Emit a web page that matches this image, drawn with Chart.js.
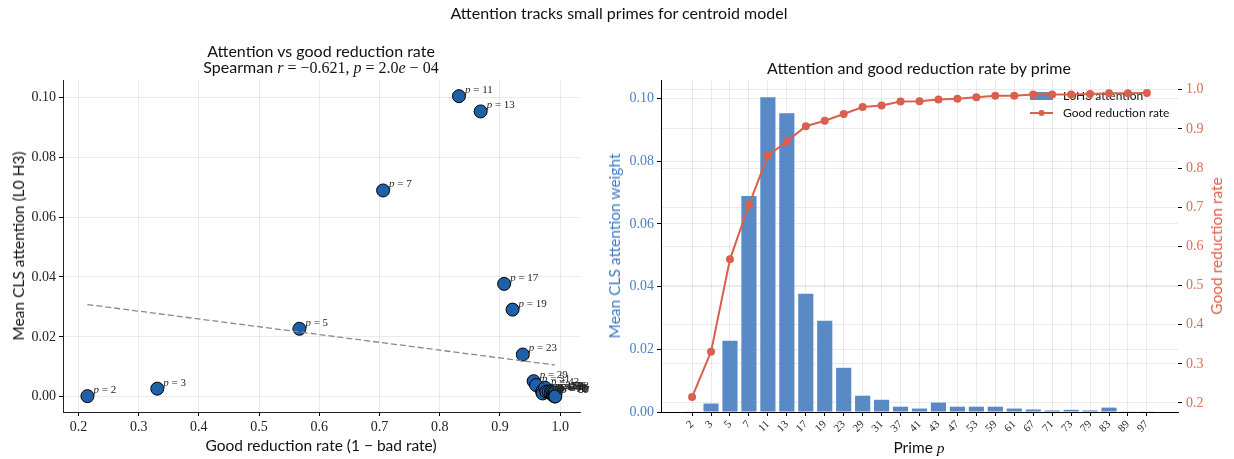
<!DOCTYPE html>
<html>
<head>
<meta charset="utf-8">
<script src="https://cdn.jsdelivr.net/npm/chart.js@4.4.1/dist/chart.umd.min.js"></script>
<style>
  body { margin: 0; background: #fff; width: 1234px; height: 459px; position: relative; overflow: hidden; font-family: Lato, sans-serif; color: #111; }
  canvas { position: absolute; top: 0; }
  .lbl { position: absolute; white-space: nowrap; transform: translate(-50%, -50%); font-weight: 400; }
  .rot { transform: translate(-50%, -50%) rotate(-90deg); }
  .m { font-family: "Liberation Serif", serif; }
  .m i { font-style: italic; }
</style>
</head>
<body>
<canvas id="scatterChart" width="600" height="459" style="left:0"></canvas>
<canvas id="primeChart" width="634" height="459" style="left:600px"></canvas>

<div class="lbl" style="left:619px;top:12px;font-size:16px">Attention tracks small primes for centroid model</div>
<div class="lbl" style="left:321px;top:50px;font-size:16px">Attention vs good reduction rate</div>
<div class="lbl" style="left:321px;top:67px;font-size:16px">Spearman <span class="m"><i>r</i> = &minus;0.621, <i>p</i> = 2.0<i>e</i> &minus; 04</span></div>
<div class="lbl" style="left:321px;top:445px;font-size:15.5px">Good reduction rate (1 &minus; bad rate)</div>
<div class="lbl rot" style="left:18px;top:246px;font-size:15.5px">Mean CLS attention (L0 H3)</div>

<div class="lbl" style="left:919px;top:67px;font-size:16px">Attention and good reduction rate by prime</div>
<div class="lbl" style="left:919px;top:447px;font-size:15.5px">Prime <span class="m"><i>p</i></span></div>
<div class="lbl rot" style="left:614px;top:246px;font-size:15.5px;color:#3f78bf">Mean CLS attention weight</div>
<div class="lbl rot" style="left:1216px;top:246px;font-size:15.5px;color:#d9604c">Good reduction rate</div>

<script>
// data
const primes = [2, 3, 5, 7, 11, 13, 17, 19, 23, 29, 31, 37, 41, 43, 47, 53, 59, 61, 67, 71, 73, 79, 83, 89, 97];
const attention = [0.0002, 0.0027, 0.0227, 0.0689, 0.1004, 0.0953, 0.0377, 0.0291, 0.0141, 0.0052, 0.0039, 0.0017,
  0.0011, 0.0030, 0.0017, 0.0017, 0.0017, 0.0011, 0.0008, 0.0005, 0.0007, 0.0005, 0.0014, 0.0001, 0.0001];
const goodRate = [0.215, 0.331, 0.567, 0.706, 0.832, 0.868, 0.907, 0.921, 0.938, 0.956, 0.960, 0.970,
  0.971, 0.975, 0.977, 0.981, 0.985, 0.985, 0.988, 0.988, 0.988, 0.989, 0.991, 0.991, 0.992];
const fitX = [0.215, 0.991];
const fitY = [0.0308, 0.0106];
const rateTicks = [0.2, 0.3, 0.4, 0.5, 0.6, 0.7, 0.8, 0.9, 1.0];
const attnTicks = [0, 0.02, 0.04, 0.06, 0.08, 0.10];

const GRID = 'rgba(0,0,0,0.08)';
const tickFont = { family: 'Liberation Serif', size: 14 };
const setTicks = vals => scale => { scale.ticks = vals.map(v => ({ value: v })); };

// "p = N" labels next to each scatter point
const pointLabels = {
  id: 'pointLabels',
  afterDatasetsDraw(chart) {
    const ctx = chart.ctx;
    const meta = chart.getDatasetMeta(1);
    ctx.save();
    ctx.fillStyle = '#222';
    ctx.textBaseline = 'middle';
    meta.data.forEach((pt, i) => {
      const x = pt.x + 6, y = pt.y - 6;
      ctx.font = 'italic 11px "Liberation Serif"';
      ctx.fillText('p', x, y);
      const w = ctx.measureText('p').width;
      ctx.font = '11px "Liberation Serif"';
      ctx.fillText(' = ' + primes[i], x + w, y);
    });
    ctx.restore();
  }
};

new Chart(document.getElementById('scatterChart'), {
  type: 'scatter',
  data: {
    datasets: [{
      type: 'line',
      data: fitX.map((x, i) => ({ x: x, y: fitY[i] })),
      borderColor: '#888',
      borderWidth: 1.3,
      borderDash: [6, 3],
      pointRadius: 0,
      order: 0
    }, {
      data: primes.map((p, i) => ({ x: goodRate[i], y: attention[i] })),
      backgroundColor: '#2060a8',
      borderColor: '#000',
      borderWidth: 1,
      pointRadius: 6.5,
      order: 1
    }]
  },
  options: {
    responsive: false,
    animation: false,
    layout: { padding: { top: 80, right: 20, left: 0, bottom: 0 } },
    plugins: { legend: { display: false }, tooltip: { enabled: false } },
    scales: {
      x: {
        type: 'linear',
        min: 0.1744,
        max: 1.033,
        afterBuildTicks: setTicks(rateTicks),
        afterFit: s => { s.height = 47; },
        grid: { color: GRID, tickColor: '#000', tickLength: 4 },
        border: { color: '#222' },
        ticks: { color: '#222', font: tickFont, padding: 3, maxRotation: 0, callback: v => v.toFixed(1) }
      },
      y: {
        min: -0.0051,
        max: 0.1058,
        afterBuildTicks: setTicks(attnTicks),
        afterFit: s => { s.width = 63; },
        grid: { color: GRID, tickColor: '#000', tickLength: 4 },
        border: { color: '#222' },
        ticks: { color: '#222', font: tickFont, padding: 3, callback: v => v.toFixed(2) }
      }
    }
  },
  plugins: [pointLabels]
});

// legend drawn inside the plot, under the data
const innerLegend = {
  id: 'innerLegend',
  beforeDatasetsDraw(chart) {
    const ctx = chart.ctx;
    ctx.save();
    ctx.fillStyle = '#5a8ac6';
    ctx.fillRect(430, 92, 23, 8);
    ctx.strokeStyle = '#d9604c';
    ctx.lineWidth = 2;
    ctx.beginPath();
    ctx.moveTo(430, 113);
    ctx.lineTo(453, 113);
    ctx.stroke();
    ctx.fillStyle = '#d9604c';
    ctx.beginPath();
    ctx.arc(441.5, 113, 3, 0, Math.PI * 2);
    ctx.fill();
    ctx.fillStyle = '#111';
    ctx.font = '12px Lato';
    ctx.textBaseline = 'middle';
    ctx.fillText('L0H3 attention', 463, 96);
    ctx.fillText('Good reduction rate', 463, 113);
    ctx.restore();
  }
};

new Chart(document.getElementById('primeChart'), {
  type: 'bar',
  data: {
    datasets: [{
      type: 'line',
      label: 'Good reduction rate',
      yAxisID: 'y1',
      data: primes.map((p, i) => ({ x: i, y: goodRate[i] })),
      borderColor: '#d9604c',
      backgroundColor: '#d9604c',
      borderWidth: 2,
      pointRadius: 3,
      tension: 0,
      order: 0
    }, {
      label: 'L0H3 attention',
      yAxisID: 'y',
      data: primes.map((p, i) => ({ x: i, y: attention[i] })),
      backgroundColor: '#5a8ac6',
      barPercentage: 0.8,
      categoryPercentage: 1,
      order: 1
    }]
  },
  options: {
    responsive: false,
    animation: false,
    layout: { padding: { top: 80, right: 0, left: 0, bottom: 0 } },
    plugins: { legend: { display: false }, tooltip: { enabled: false } },
    scales: {
      x: {
        type: 'linear',
        offset: false,
        min: -1.64,
        max: 25.64,
        afterBuildTicks: setTicks(primes.map((p, i) => i)),
        afterFit: s => { s.height = 47; },
        grid: { color: GRID, tickColor: '#000', tickLength: 4, offset: false },
        border: { color: '#000' },
        ticks: { color: '#222', font: { family: 'Liberation Serif', size: 11 }, autoSkip: false,
          minRotation: 45, maxRotation: 45, padding: 2, callback: v => String(primes[v]) }
      },
      y: {
        position: 'left',
        min: 0,
        max: 0.1059,
        afterBuildTicks: setTicks(attnTicks),
        afterFit: s => { s.width = 61; },
        grid: { color: GRID, tickColor: '#000', tickLength: 4 },
        border: { color: '#000' },
        ticks: { color: '#4a80c4', font: tickFont, padding: 3, callback: v => v.toFixed(2) }
      },
      y1: {
        position: 'right',
        min: 0.177,
        max: 1.025,
        afterBuildTicks: setTicks(rateTicks),
        afterFit: s => { s.width = 56; },
        grid: { color: GRID, tickColor: '#000', tickLength: 4 },
        border: { display: false },
        ticks: { color: '#e06a55', font: tickFont, padding: 4, callback: v => v.toFixed(1) }
      }
    }
  },
  plugins: [innerLegend]
});
</script>
</body>
</html>
